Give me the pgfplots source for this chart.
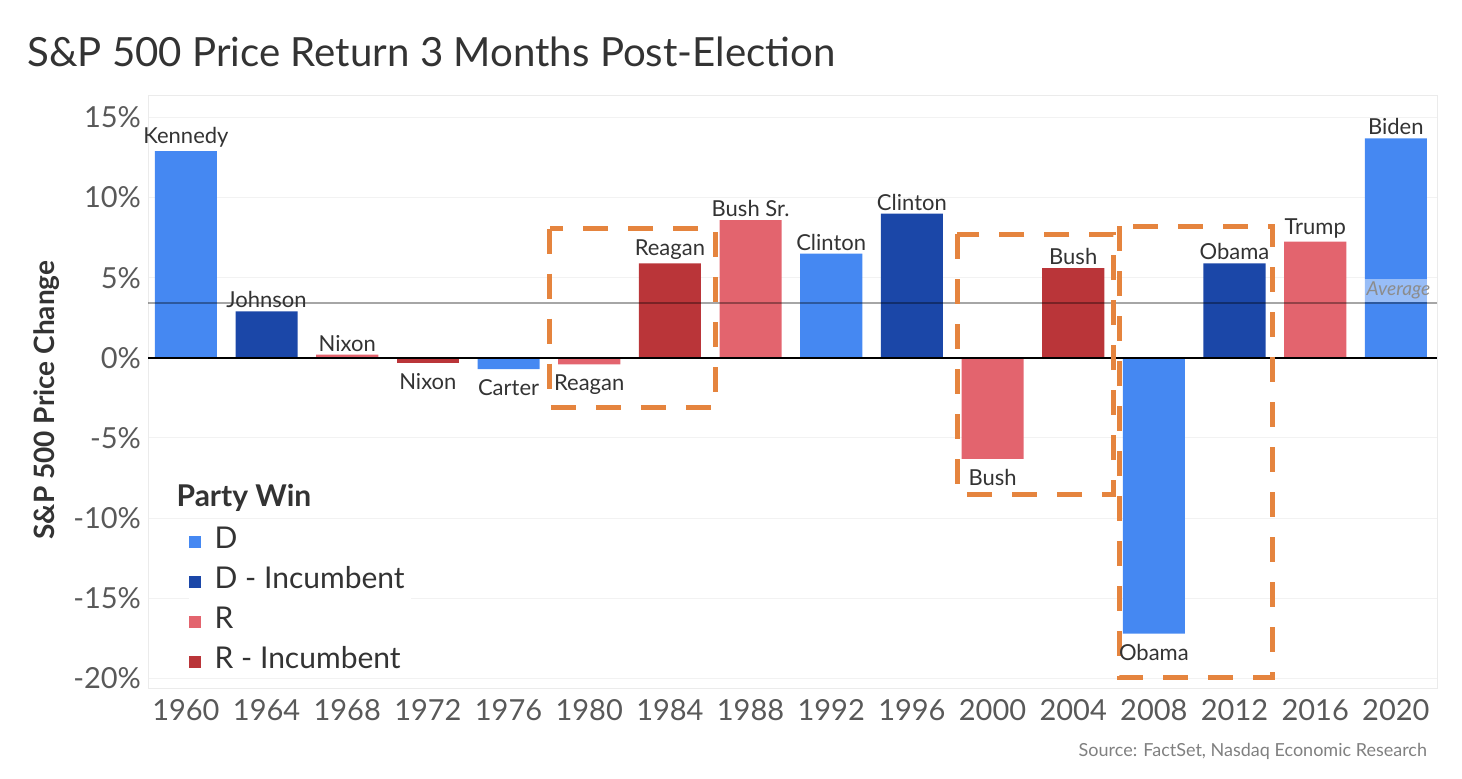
\documentclass[border=0pt]{standalone}
\usepackage{fontspec}
\setmainfont{Lato}
\usepackage{pgfplots}
\pgfplotsset{compat=1.18}
\definecolor{cD}{HTML}{4588F2}
\definecolor{cDI}{HTML}{1B47A8}
\definecolor{cR}{HTML}{E3646E}
\definecolor{cRI}{HTML}{BA3539}
\definecolor{cOr}{HTML}{E5843E}
\definecolor{txt}{HTML}{595959}
\definecolor{dtxt}{HTML}{333333}
\begin{document}
\begin{tikzpicture}[x=1pt,y=1pt]
\path[use as bounding box] (0,0) rectangle (731,389);
\node[anchor=west, inner sep=0pt, font=\fontsize{20.1}{24}\selectfont, text=dtxt] at (13.5,363) {S\&P 500 Price Return 3 Months Post-Election};
\node[rotate=90, font=\bfseries\fontsize{14}{16}\selectfont, text=dtxt] at (23.5,189) {S\&P 500 Price Change};
\node[anchor=east, font=\fontsize{9}{11}\selectfont, text=black!50] at (717,13.5) {Source: FactSet, Nasdaq Economic Research};
\begin{axis}[
  at={(74pt,45pt)}, anchor=south west,
  scale only axis, width=644.5pt, height=296.5pt,
  xmin=-0.47, xmax=15.51, ymin=-20.6, ymax=16.4,
  ybar, bar width=0.77,
  xtick={0,...,15},
  xticklabels={1960,1964,1968,1972,1976,1980,1984,1988,1992,1996,2000,2004,2008,2012,2016,2020},
  ytick={-20,-15,-10,-5,0,5,10,15},
  yticklabel={\pgfmathprintnumber{\tick}\%},
  /pgf/number format/assume math mode=true,
  ticklabel style={font=\fontsize{14.5}{16}\selectfont, text=txt},
  xticklabel style={yshift=-2pt},
  major tick length=0pt,
  ymajorgrids, grid style={color=black!5, line width=0.5pt},
  axis line style={black!8},
  point meta=explicit symbolic,
  nodes near coords,
  every node near coord/.append style={font=\fontsize{11}{13}\selectfont, text=dtxt, inner ysep=1.5pt},
  legend image code/.code={\path[#1, draw=none] (0pt,-3pt) rectangle (6pt,3pt);},
  legend style={at={(axis cs:0.03,-10.5)}, anchor=north west, draw=none, fill=white,
    font=\fontsize{15}{17}\selectfont, text=dtxt, inner sep=0pt, row sep=5pt,
    nodes={inner xsep=3pt, inner ysep=0pt, text height=11pt, text depth=4pt},
    /tikz/every odd column/.append style={column sep=4pt}},
  legend cell align=left,
  clip=false,
]
% positive bars (labels above)
\addplot[fill=cD, draw=none, bar shift=0pt] coordinates {(0,12.9) [Kennedy] (8,6.5) [Clinton] (15,13.7) [Biden]};
\addlegendentry{D}
\addplot[fill=cDI, draw=none, bar shift=0pt] coordinates {(1,2.9) [Johnson] (9,9.0) [Clinton] (13,5.9) [Obama]};
\addlegendentry{D - Incumbent}
\addplot[fill=cR, draw=none, bar shift=0pt] coordinates {(2,0.2) [Nixon] (7,8.6) [Bush Sr.] (14,7.25) [Trump]};
\addlegendentry{R}
\addplot[fill=cRI, draw=none, bar shift=0pt] coordinates {(6,5.9) [Reagan] (11,5.6) [Bush]};
\addlegendentry{R - Incumbent}
% negative bars (labels below)
\addplot[fill=cD, draw=none, bar shift=0pt, forget plot, every node near coord/.append style={anchor=north, inner ysep=5pt}] coordinates {(4,-0.7) [Carter] (12,-17.2) [Obama]};
\addplot[fill=cR, draw=none, bar shift=0pt, forget plot, every node near coord/.append style={anchor=north, inner ysep=5pt}] coordinates {(5,-0.4) [Reagan] (10,-6.3) [Bush]};
\addplot[fill=cRI, draw=none, bar shift=0pt, forget plot, every node near coord/.append style={anchor=north, inner ysep=5pt}] coordinates {(3,-0.3) [Nixon]};
\draw[black, line width=1pt] (axis cs:-0.47,0) -- (axis cs:15.51,0);
\draw[black, opacity=0.35, line width=0.9pt] (axis cs:-0.47,3.4) -- (axis cs:15.51,3.4);
\node[anchor=south east, fill=white, fill opacity=0.45, text opacity=1, inner sep=1.5pt, font=\itshape\fontsize{9.6}{11}\selectfont, text=black!45] at (axis cs:15.47,3.45) {Average};
\node[anchor=west, inner xsep=0pt, font=\bfseries\fontsize{15}{17}\selectfont, text=dtxt] at (axis cs:-0.12,-8.75) {Party Win};
\begin{scope}[cOr, line width=2.5pt, dash pattern=on 12.5pt off 10pt]
\draw (axis cs:4.51,8.06) rectangle (axis cs:6.56,-3.1);
\draw (axis cs:9.56,7.7) rectangle (axis cs:11.50,-8.5);
\draw (axis cs:11.57,8.2) rectangle (axis cs:13.47,-19.94);
\end{scope}
\end{axis}
\end{tikzpicture}
\end{document}
